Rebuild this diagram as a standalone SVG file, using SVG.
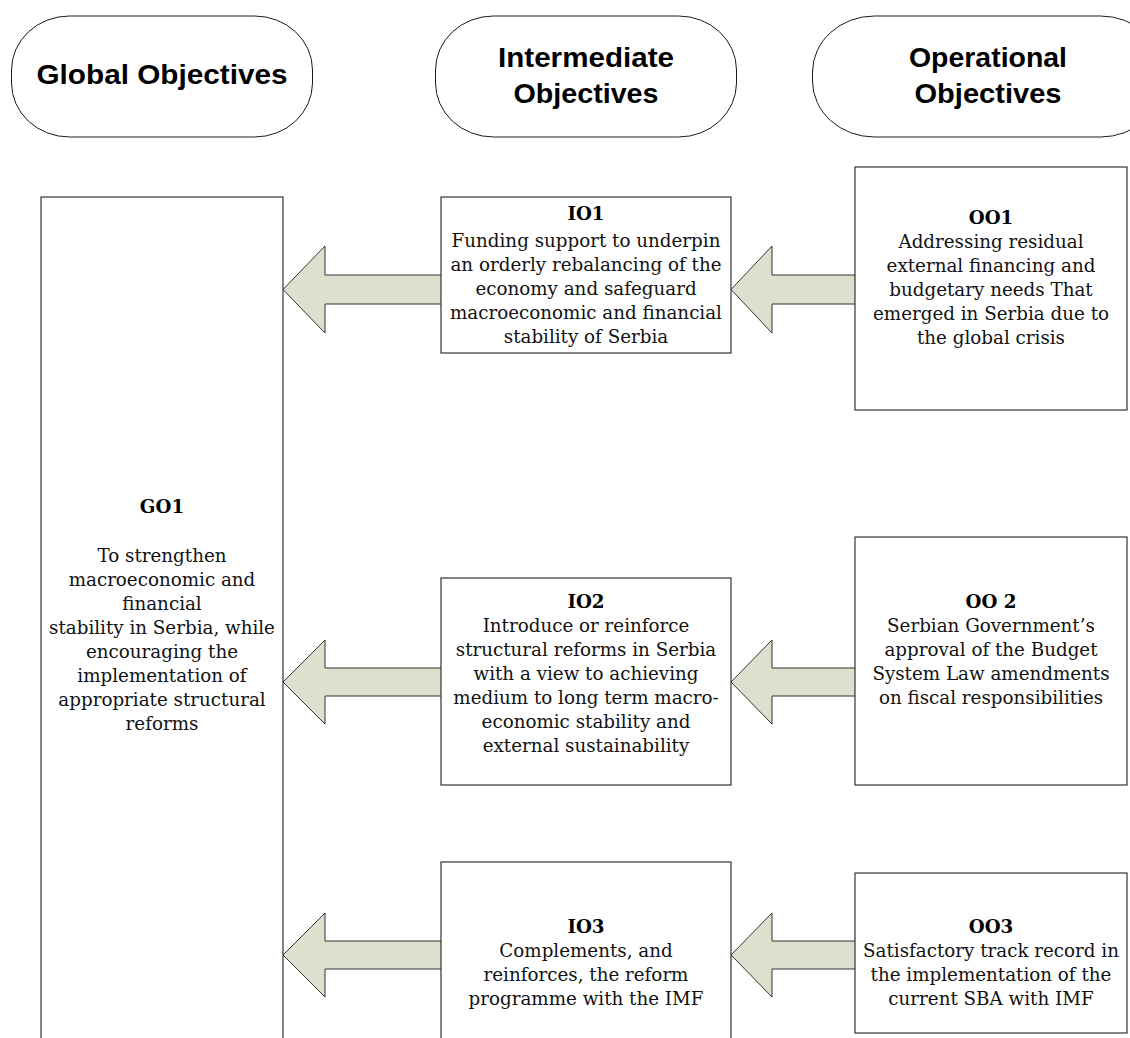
<svg xmlns="http://www.w3.org/2000/svg" width="1130" height="1038" viewBox="0 0 1130 1038">
<style>
.hdr{fill:#fff;stroke:#1a1a1a;stroke-width:1}
.ht{font-family:"Liberation Sans",Arial,sans-serif;font-weight:bold;font-size:27px;fill:#000;text-anchor:middle}
.box{fill:#fff;stroke:#333;stroke-width:1.2}
.bt{font-family:"DejaVu Serif",Georgia,serif;font-size:18.3px;fill:#111;text-anchor:middle}
.bl{font-weight:bold;fill:#000}
.arr{fill:#dde0cd;stroke:#333;stroke-width:1}
</style>
<rect width="1130" height="1038" fill="#fff"/>
<g id="hdr-global">
<rect class="hdr" x="11.5" y="16" width="301" height="121" rx="58" ry="54"/>
<text class="ht" x="162" y="84" textLength="251" lengthAdjust="spacingAndGlyphs">Global Objectives</text>
</g>
<g id="hdr-intermediate">
<rect class="hdr" x="435.5" y="16" width="301" height="121" rx="58" ry="54"/>
<text class="ht" x="586" y="67" textLength="176" lengthAdjust="spacingAndGlyphs">Intermediate</text>
<text class="ht" x="586" y="103" textLength="145" lengthAdjust="spacingAndGlyphs">Objectives</text>
</g>
<g id="hdr-operational">
<rect class="hdr" x="812.5" y="16" width="350" height="121" rx="62" ry="56"/>
<text class="ht" x="988" y="67" textLength="158" lengthAdjust="spacingAndGlyphs">Operational</text>
<text class="ht" x="988" y="103" textLength="147" lengthAdjust="spacingAndGlyphs">Objectives</text>
</g>
<g id="connectors">
<polygon class="arr" points="283,289.5 325,246 325,275 442,275 442,304 325,304 325,333"/>
<polygon class="arr" points="731,289.5 772,246 772,275 856,275 856,304 772,304 772,333"/>
<polygon class="arr" points="283,682 325,640 325,668 442,668 442,696 325,696 325,724"/>
<polygon class="arr" points="731,682 772,640 772,668 856,668 856,696 772,696 772,724"/>
<polygon class="arr" points="283,955 325,913 325,941 442,941 442,969 325,969 325,997"/>
<polygon class="arr" points="731,955 772,913 772,941 856,941 856,969 772,969 772,997"/>
</g>
<g id="GO1">
<rect class="box" x="41" y="197" width="242" height="900"/>
<text class="bt"><tspan class="bl" x="162" y="513">GO1</tspan><tspan x="162" y="562">To strengthen</tspan><tspan x="162" y="586">macroeconomic and</tspan><tspan x="162" y="610">financial</tspan><tspan x="162" y="634">stability in Serbia, while</tspan><tspan x="162" y="658">encouraging the</tspan><tspan x="162" y="682">implementation of</tspan><tspan x="162" y="706">appropriate structural</tspan><tspan x="162" y="730">reforms</tspan></text>
</g>
<g id="IO1">
<rect class="box" x="441" y="197" width="290" height="156"/>
<text class="bt"><tspan class="bl" x="586" y="220">IO1</tspan><tspan x="586" y="247">Funding support to underpin</tspan><tspan x="586" y="271">an orderly rebalancing of the</tspan><tspan x="586" y="295">economy and safeguard</tspan><tspan x="586" y="319">macroeconomic and financial</tspan><tspan x="586" y="343">stability of Serbia</tspan></text>
</g>
<g id="OO1">
<rect class="box" x="855" y="167" width="272" height="243"/>
<text class="bt"><tspan class="bl" x="991" y="224">OO1</tspan><tspan x="991" y="248">Addressing residual</tspan><tspan x="991" y="272">external financing and</tspan><tspan x="991" y="296">budgetary needs That</tspan><tspan x="991" y="320">emerged in Serbia due to</tspan><tspan x="991" y="344">the global crisis</tspan></text>
</g>
<g id="IO2">
<rect class="box" x="441" y="578" width="290" height="207"/>
<text class="bt"><tspan class="bl" x="586" y="608">IO2</tspan><tspan x="586" y="632">Introduce or reinforce</tspan><tspan x="586" y="656">structural reforms in Serbia</tspan><tspan x="586" y="680">with a view to achieving</tspan><tspan x="586" y="704">medium to long term macro-</tspan><tspan x="586" y="728">economic stability and</tspan><tspan x="586" y="752">external sustainability</tspan></text>
</g>
<g id="OO2">
<rect class="box" x="855" y="537" width="272" height="248"/>
<text class="bt"><tspan class="bl" x="991" y="608">OO 2</tspan><tspan x="991" y="632">Serbian Government’s</tspan><tspan x="991" y="656">approval of the Budget</tspan><tspan x="991" y="680">System Law amendments</tspan><tspan x="991" y="704">on fiscal responsibilities</tspan></text>
</g>
<g id="IO3">
<rect class="box" x="441" y="862" width="290" height="300"/>
<text class="bt"><tspan class="bl" x="586" y="933">IO3</tspan><tspan x="586" y="957">Complements, and</tspan><tspan x="586" y="981">reinforces, the reform</tspan><tspan x="586" y="1005">programme with the IMF</tspan></text>
</g>
<g id="OO3">
<rect class="box" x="855" y="873" width="272" height="160"/>
<text class="bt"><tspan class="bl" x="991" y="933">OO3</tspan><tspan x="991" y="957">Satisfactory track record in</tspan><tspan x="991" y="981">the implementation of the</tspan><tspan x="991" y="1005">current SBA with IMF</tspan></text>
</g>
</svg>
